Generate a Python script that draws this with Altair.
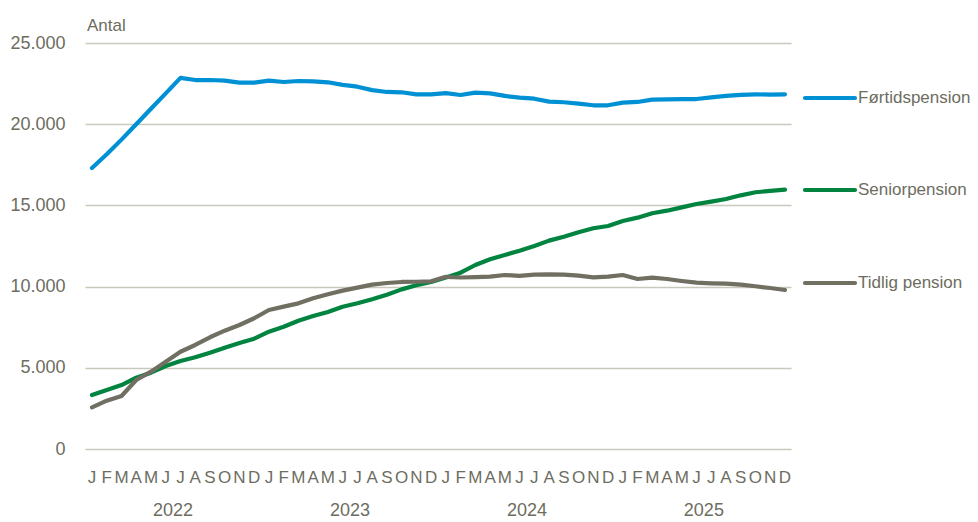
import altair as alt
import pandas as pd

years = ["2022", "2023", "2024", "2025"]
month_letters = ["J", "F", "M", "A", "M", "J", "J", "A", "S", "O", "N", "D"]

series_names = ["Førtidspension", "Seniorpension", "Tidlig pension"]
series_colors = ["#0091d5", "#00843f", "#706f62"]

fortid = [17300, 18150, 19050, 20000, 20950, 21900, 22850, 22720, 22720, 22680, 22560, 22560,
          22680, 22600, 22660, 22640, 22580, 22420, 22310, 22100, 21985, 21965, 21840, 21840,
          21910, 21800, 21940, 21900, 21740, 21635, 21570, 21390, 21350, 21265, 21165, 21165,
          21330, 21370, 21510, 21530, 21550, 21550, 21655, 21740, 21800, 21840, 21820, 21840]

senior = [3325, 3630, 3940, 4390, 4700, 5110, 5420, 5645, 5930, 6240, 6530, 6790,
          7225, 7530, 7900, 8190, 8440, 8760, 8970, 9220, 9500, 9830, 10080, 10280,
          10560, 10855, 11330, 11680, 11950, 12210, 12500, 12830, 13075, 13345, 13590, 13730,
          14040, 14245, 14515, 14675, 14880, 15085, 15230, 15395, 15620, 15810, 15890, 15970]

tidlig = [2565, 2975, 3265, 4250, 4760, 5375, 5990, 6405, 6880, 7285, 7635, 8050,
          8560, 8765, 8970, 9280, 9525, 9750, 9935, 10120, 10220, 10285, 10300, 10325,
          10600, 10560, 10580, 10610, 10715, 10655, 10735, 10755, 10735, 10675, 10570, 10610,
          10715, 10470, 10550, 10470, 10345, 10240, 10200, 10180, 10120, 10020, 9915, 9790]

all_values = [fortid, senior, tidlig]

rows = []
for name, vals in zip(series_names, all_values):
    for i, v in enumerate(vals):
        rows.append({"serie": name, "idx": i, "value": v})
df = pd.DataFrame(rows)

month_df = pd.DataFrame({
    "idx": list(range(len(years) * 12)),
    "letter": [month_letters[i % 12] for i in range(len(years) * 12)],
})
year_df = pd.DataFrame({"year": years, "pos": [5.5 + 12 * k for k in range(len(years))]})

FONT = "Liberation Sans"
TXT = "#6d6d5f"
W, H = 706, 406

xscale = alt.Scale(domain=[-0.475, 47.41], nice=False, zero=False)
yscale = alt.Scale(domain=[0, 25000], nice=False)

lines = alt.Chart(df).mark_line(strokeWidth=4.2, strokeCap="round", strokeJoin="round").encode(
    x=alt.X("idx:Q", scale=xscale, title=None, axis=None),
    y=alt.Y("value:Q", scale=yscale, title=None,
            axis=alt.Axis(values=[0, 5000, 10000, 15000, 20000, 25000],
                          labelExpr="replace(format(datum.value, ','), ',', '.')",
                          ticks=False, domain=False, grid=True,
                          gridColor="#c8c8bd", gridWidth=1.5,
                          labelFont=FONT, labelFontSize=18, labelColor=TXT,
                          labelPadding=20)),
    color=alt.Color("serie:N", scale=alt.Scale(domain=series_names, range=series_colors), legend=None),
    order=alt.Order("idx:Q"),
    detail="serie:N",
)

month_text = alt.Chart(month_df).mark_text(
    font=FONT, fontSize=17, color=TXT, baseline="alphabetic", align="center"
).encode(
    x=alt.X("idx:Q", scale=xscale),
    y=alt.value(H + 34),
    text="letter:N",
)

year_text = alt.Chart(year_df).mark_text(
    font=FONT, fontSize=18, color=TXT, baseline="alphabetic", align="center"
).encode(
    x=alt.X("pos:Q", scale=xscale),
    y=alt.value(H + 67),
    text="year:N",
)

antal = alt.Chart(pd.DataFrame({"t": ["Antal"]})).mark_text(
    font=FONT, fontSize=17, color=TXT, align="left", baseline="alphabetic"
).encode(x=alt.value(2), y=alt.value(-12), text="t:N")

legend_y = [55, 147, 240]
legend_layers = []
for name, col, ly in zip(series_names, series_colors, legend_y):
    ldf = pd.DataFrame({"serie": [name]})
    legend_layers.append(
        alt.Chart(ldf).mark_rule(strokeWidth=4.2, strokeCap="round", color=col).encode(
            x=alt.value(720), x2=alt.value(770), y=alt.value(ly))
    )
    legend_layers.append(
        alt.Chart(ldf).mark_text(font=FONT, fontSize=17, color=TXT, align="left", baseline="middle").encode(
            x=alt.value(773), y=alt.value(ly), text="serie:N")
    )

chart = alt.layer(lines, month_text, year_text, antal, *legend_layers).properties(
    width=W, height=H,
    background="white",
    autosize=alt.AutoSizeParams(type="none"),
    padding={"left": 77, "top": 35, "right": 179, "bottom": 73},
).configure_view(stroke=None)

chart.save("out.html", embed_options={"renderer": "svg", "actions": False})
